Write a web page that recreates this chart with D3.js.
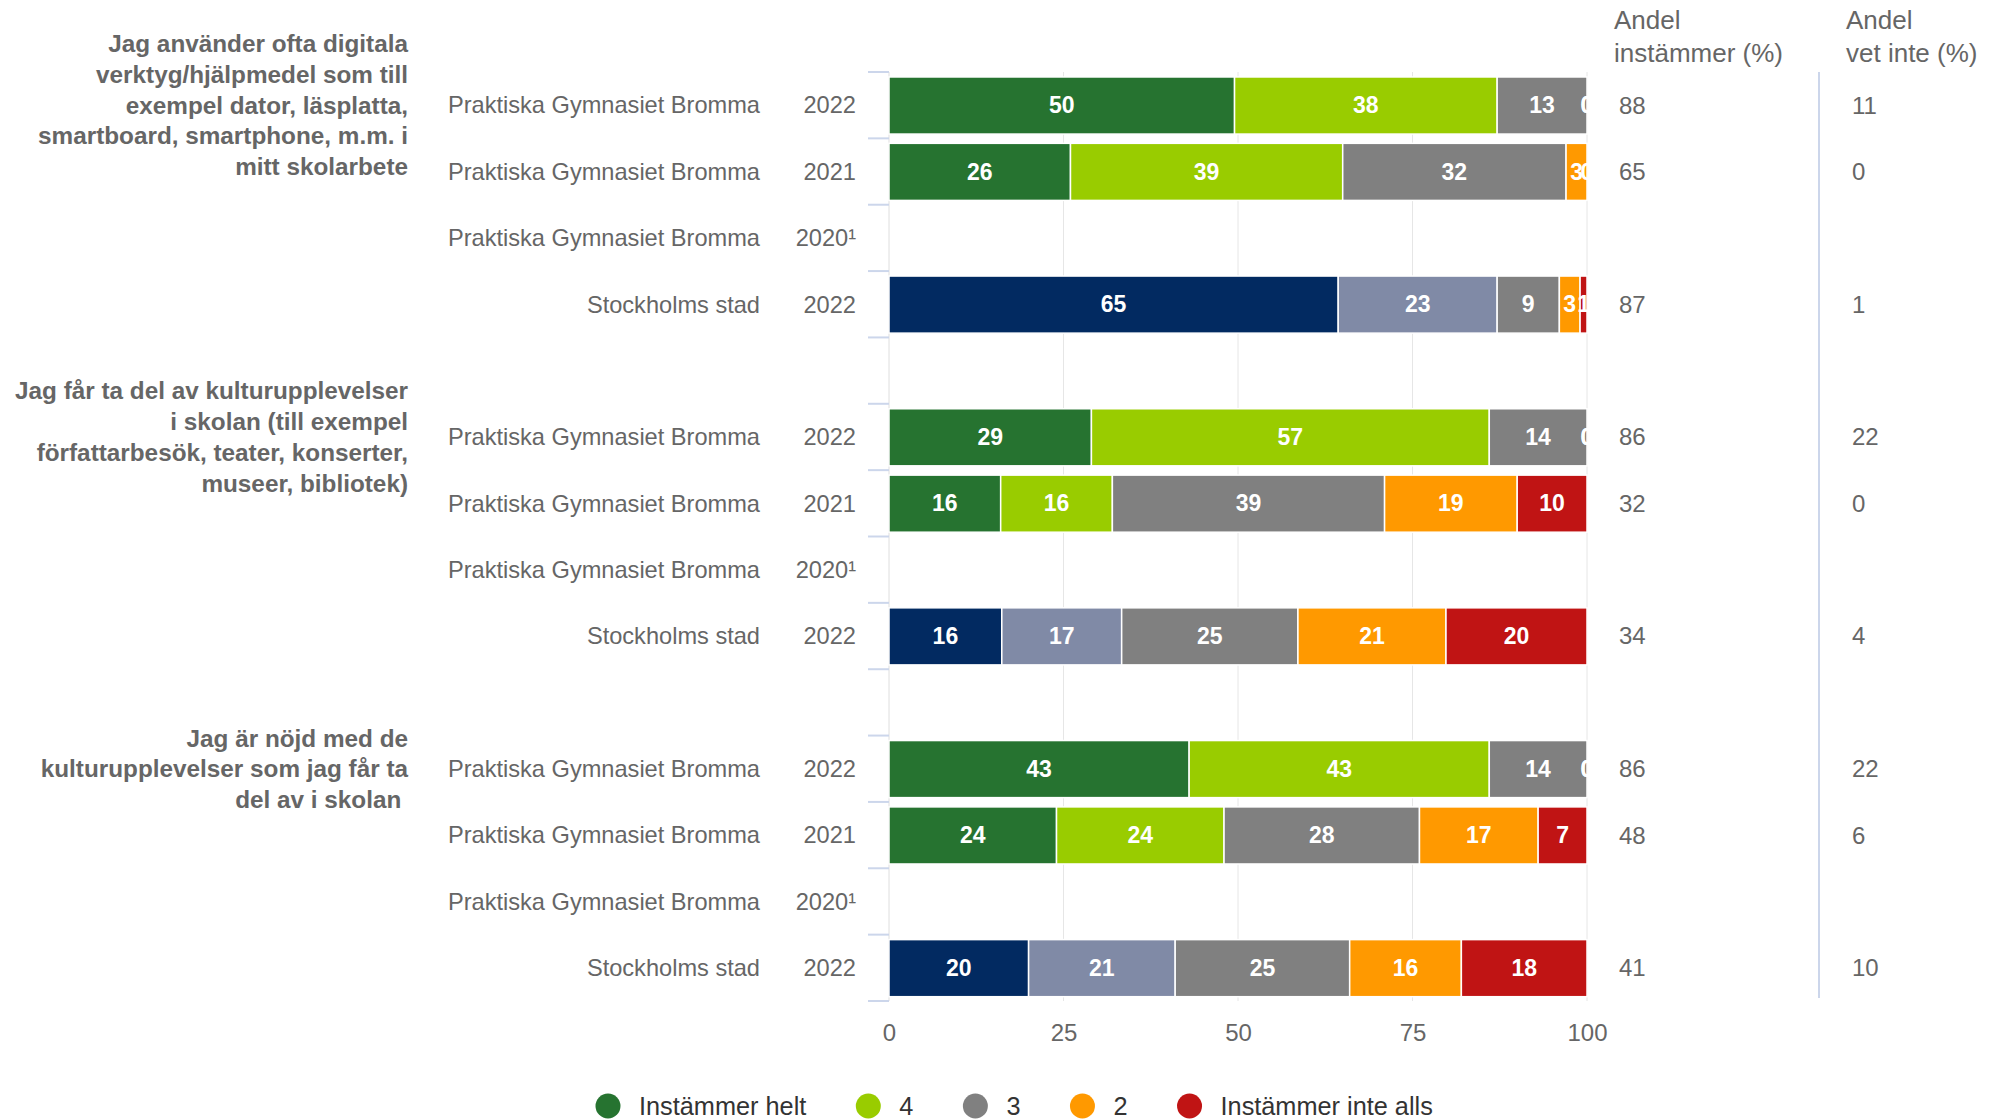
<!DOCTYPE html>
<html>
<head>
<meta charset="utf-8">
<script src="https://cdn.jsdelivr.net/npm/d3@7"></script>
<style>
  html, body { margin: 0; padding: 0; background: #fff; }
  svg { display: block; font-family: "Liberation Sans", Arial, Helvetica, sans-serif; }
</style>
</head>
<body>
<svg id="chart"></svg>
<script>
// rows of the chart, top to bottom ("" = spacer row between questions)
const rowNames = [
    "Praktiska Gymnasiet Bromma", "Praktiska Gymnasiet Bromma", "Praktiska Gymnasiet Bromma", "Stockholms stad", "",
    "Praktiska Gymnasiet Bromma", "Praktiska Gymnasiet Bromma", "Praktiska Gymnasiet Bromma", "Stockholms stad", "",
    "Praktiska Gymnasiet Bromma", "Praktiska Gymnasiet Bromma", "Praktiska Gymnasiet Bromma", "Stockholms stad"
];
const rowYears = [
    "2022", "2021", "2020¹", "2022", "",
    "2022", "2021", "2020¹", "2022", "",
    "2022", "2021", "2020¹", "2022"
];

// answer series (null = no data)
const seriesNames = ["Instämmer helt", "4", "3", "2", "Instämmer inte alls"];
const instammerHelt = [50, 26, null, 65, null, 29, 16, null, 16, null, 43, 24, null, 20];
const fyra          = [38, 39, null, 23, null, 57, 16, null, 17, null, 43, 24, null, 21];
const tre           = [13, 32, null, 9,  null, 14, 39, null, 25, null, 14, 28, null, 25];
const tva           = [0,  3,  null, 3,  null, 0,  19, null, 21, null, 0,  17, null, 16];
const instammerInte = [0,  0,  null, 1,  null, 0,  10, null, 20, null, 0,  7,  null, 18];

// right hand columns
const andelInstammer = ["88", "65", "", "87", "", "86", "32", "", "34", "", "86", "48", "", "41"];
const andelVetInte   = ["11", "0", "", "1", "", "22", "0", "", "4", "", "22", "6", "", "10"];

// question labels and the row they sit beside
const questions = [
    { row: 0, lines: ["Jag använder ofta digitala", "verktyg/hjälpmedel som till", "exempel dator, läsplatta,", "smartboard, smartphone, m.m. i", "mitt skolarbete"] },
    { row: 5, lines: ["Jag får ta del av kulturupplevelser", "i skolan (till exempel", "författarbesök, teater, konserter,", "museer, bibliotek)"] },
    { row: 10, lines: ["Jag är nöjd med de", "kulturupplevelser som jag får ta", "del av i skolan "] }
];

const xTicks = [0, 25, 50, 75, 100];

const allSeries = [instammerHelt, fyra, tre, tva, instammerInte];
const schoolColors = ["#267330", "#99cc00", "#808080", "#ff9900", "#c01414"];
const cityColors = ["#022a61", "#808aa6", "#808080", "#ff9900", "#c01414"];

const width = 1994, height = 1119;
const svg = d3.select("#chart").attr("width", width).attr("height", height);

const plotTop = 72, plotBottom = 1001, plotLeft = 889, plotRight = 1587;

const x = d3.scaleLinear().domain([0, 100]).range([plotLeft, plotRight]);
const y = d3.scaleBand().domain(d3.range(rowNames.length)).range([plotTop, plotBottom]);
const bw = y.bandwidth();

// grid lines
svg.append("g")
    .selectAll("line")
    .data(xTicks.filter(t => t > 0))
    .enter()
    .append("line")
    .attr("x1", d => x(d)).attr("x2", d => x(d))
    .attr("y1", plotTop).attr("y2", plotBottom)
    .attr("stroke", "#e6e6e6")
    .attr("stroke-width", 1);

// category axis line + ticks between bands
svg.append("line")
    .attr("x1", plotLeft).attr("x2", plotLeft)
    .attr("y1", plotTop).attr("y2", plotBottom)
    .attr("stroke", "#dedede");

svg.append("g")
    .selectAll("line")
    .data(d3.range(rowNames.length + 1))
    .enter()
    .append("line")
    .attr("x1", plotLeft - 21).attr("x2", plotLeft)
    .attr("y1", i => plotTop + i * bw).attr("y2", i => plotTop + i * bw)
    .attr("stroke", "#ccd6eb")
    .attr("stroke-width", 2);

// value axis labels
const xAxis = d3.axisBottom(x).tickValues(xTicks).tickSize(0).tickPadding(0);
const xg = svg.append("g").attr("transform", `translate(0,${plotBottom})`).call(xAxis);
xg.select(".domain").remove();
xg.selectAll("text")
    .attr("y", 32)
    .attr("dy", "0.35em")
    .attr("font-size", "24px")
    .attr("font-family", "Liberation Sans, Arial, sans-serif")
    .attr("fill", "#666");

// stacked (percent) segments
const segments = [];
rowNames.forEach((name, i) => {
    if (instammerHelt[i] === null) return;
    const total = d3.sum(allSeries, s => s[i]);
    const colors = name === "Stockholms stad" ? cityColors : schoolColors;
    let acc = 0;
    allSeries.forEach((s, k) => {
        const v = s[i];
        segments.push({ row: i, value: v, x0: acc / total * 100, x1: (acc + v) / total * 100, color: colors[k] });
        acc += v;
    });
});

svg.append("g")
    .selectAll("rect")
    .data(segments.filter(d => d.value > 0))
    .enter()
    .append("rect")
    .attr("x", d => x(d.x0))
    .attr("width", d => x(d.x1) - x(d.x0))
    .attr("y", d => y(d.row) + bw * 0.075)
    .attr("height", bw * 0.86)
    .attr("fill", d => d.color)
    .attr("stroke", "#fff")
    .attr("stroke-width", 1.5);

// data labels, clipped at the plot edge
svg.append("clipPath").attr("id", "plot-clip")
    .append("rect")
    .attr("x", plotLeft).attr("y", plotTop)
    .attr("width", plotRight - plotLeft + 1).attr("height", plotBottom - plotTop);

svg.append("g")
    .attr("clip-path", "url(#plot-clip)")
    .selectAll("text")
    .data(segments)
    .enter()
    .append("text")
    .attr("x", d => x((d.x0 + d.x1) / 2))
    .attr("y", d => y(d.row) + bw / 2)
    .attr("dy", "0.35em")
    .attr("text-anchor", "middle")
    .attr("font-size", "23px")
    .attr("font-weight", "bold")
    .attr("fill", "#fff")
    .text(d => d.value);

// row labels
const labels = svg.append("g").attr("font-size", "23.6px").attr("fill", "#666");
labels.selectAll(".name")
    .data(rowNames)
    .enter()
    .append("text")
    .attr("x", 760)
    .attr("y", (d, i) => y(i) + bw / 2)
    .attr("dy", "0.35em")
    .attr("text-anchor", "end")
    .text(d => d);

labels.selectAll(".year")
    .data(rowYears)
    .enter()
    .append("text")
    .attr("x", 856)
    .attr("y", (d, i) => y(i) + bw / 2)
    .attr("dy", "0.35em")
    .attr("text-anchor", "end")
    .text(d => d);

// question labels
const lineHeight = 30.7;
questions.forEach(q => {
    const cy = y(q.row) + bw / 2;
    const t = svg.append("text")
        .attr("x", 408)
        .attr("text-anchor", "end")
        .attr("font-size", "24.3px")
        .attr("font-weight", "bold")
        .attr("fill", "#666")
        .style("white-space", "pre");
    q.lines.forEach((line, j) => {
        t.append("tspan")
            .attr("x", 408)
            .attr("y", cy + (j - (q.lines.length - 1) / 2) * lineHeight)
            .attr("dy", "0.35em")
            .text(line);
    });
});

// right columns
svg.append("line")
    .attr("x1", 1819).attr("x2", 1819)
    .attr("y1", plotTop).attr("y2", plotBottom - 3)
    .attr("stroke", "#ccd6eb")
    .attr("stroke-width", 2);

const headers = [
    { x: 1614, lines: ["Andel", "instämmer (%)"] },
    { x: 1846, lines: ["Andel", "vet inte (%)"] }
];
headers.forEach(h => {
    h.lines.forEach((line, j) => {
        svg.append("text")
            .attr("x", h.x)
            .attr("y", 29 + j * 32.5)
            .attr("font-size", "26px")
            .attr("fill", "#666")
            .text(line);
    });
});

[[andelInstammer, 1619], [andelVetInte, 1852]].forEach(([vals, cx]) => {
    svg.append("g")
        .selectAll("text")
        .data(vals)
        .enter()
        .append("text")
        .attr("x", cx)
        .attr("y", (d, i) => y(i) + bw / 2)
        .attr("dy", "0.35em")
        .attr("font-size", "24px")
        .attr("fill", "#666")
        .text(d => d);
});

// legend
const legend = svg.append("g").attr("transform", "translate(0,1106)");
let lx = 608;
seriesNames.forEach((name, k) => {
    legend.append("circle")
        .attr("cx", lx).attr("cy", 0).attr("r", 12.5)
        .attr("fill", schoolColors[k]);
    const txt = legend.append("text")
        .attr("x", lx + 31)
        .attr("y", 0)
        .attr("dy", "0.35em")
        .attr("font-size", "25.3px")
        .attr("fill", "#333")
        .text(name);
    lx += 31 + txt.node().getComputedTextLength() + 62;
});
</script>
</body>
</html>
